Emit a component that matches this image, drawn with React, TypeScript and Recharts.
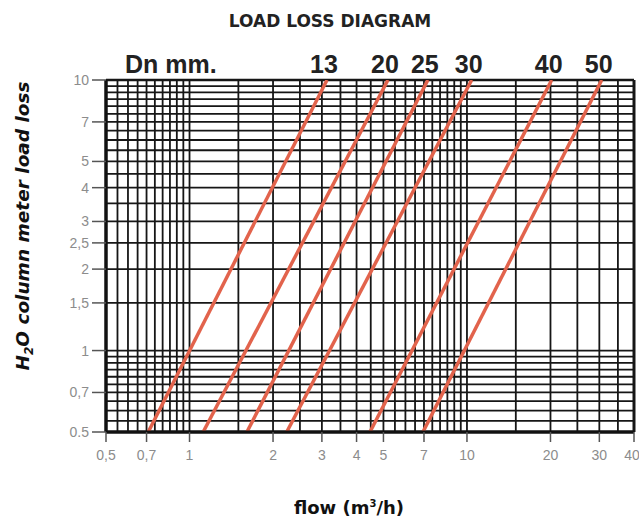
import React from 'react';
import { LineChart, Line, XAxis, YAxis, ReferenceLine, LabelList } from 'recharts';

// tick labels on the axes
const xTicks = [0.5, 0.7, 1, 2, 3, 4, 5, 7, 10, 20, 30, 40];
const yTicks = [0.5, 0.7, 1, 1.5, 2, 2.5, 3, 4, 5, 7, 10];

// grid lines of the nomograph
const xGrid = [
  0.5, 0.55, 0.6, 0.65, 0.7, 0.75, 0.8, 0.85, 0.9, 0.95, 1, 1.5, 2, 2.5, 3, 3.5, 4, 4.5, 5,
  5.5, 6, 6.5, 7, 7.5, 8, 8.5, 9, 9.5, 10, 15, 20, 25, 30, 35, 40,
];
const yGrid = [
  0.5, 0.55, 0.6, 0.65, 0.7, 0.75, 0.8, 0.85, 0.9, 0.95, 1, 1.5, 2, 2.5, 3, 3.5, 4, 4.5, 5,
  5.5, 6, 6.5, 7, 7.5, 8, 8.5, 9, 9.5, 10,
];

// pipe diameters (Dn mm) and their load loss lines: flow m3/h vs H2O column meter
const dn13 = [{ x: 0.71, y: 0.5 }, { x: 3.13, y: 10 }];
const dn20 = [{ x: 1.12, y: 0.5 }, { x: 5.19, y: 10 }];
const dn25 = [{ x: 1.61, y: 0.5 }, { x: 7.23, y: 10 }];
const dn30 = [{ x: 2.24, y: 0.5 }, { x: 10.4, y: 10 }];
const dn40 = [{ x: 4.47, y: 0.5 }, { x: 20.2, y: 10 }];
const dn50 = [{ x: 6.94, y: 0.5 }, { x: 30.6, y: 10 }];

const series = [
  { name: '13', points: dn13 },
  { name: '20', points: dn20 },
  { name: '25', points: dn25 },
  { name: '30', points: dn30 },
  { name: '40', points: dn40 },
  { name: '50', points: dn50 },
];

const GRID = '#161616';
const RED = '#e2634c';
const TICK_FONT = { fontFamily: 'Liberation Sans, Arial, sans-serif', fontSize: 14, fill: '#8c8c8c' };

const fmtX = (v: number) => String(v).replace('.', ',');
const fmtY = (v: number) => (v === 0.5 ? '0.5' : String(v).replace('.', ','));

const topLabel = (name: string) => (p: any) => {
  if (p.index !== 1) return null;
  return (
    <text
      x={p.x - 3}
      y={p.y - 7}
      textAnchor="middle"
      fontFamily="Liberation Sans, Arial, sans-serif"
      fontWeight="bold"
      fontSize={25}
      fill="#222"
    >
      {name}
    </text>
  );
};

export default function App() {
  return (
    <div style={{ position: 'absolute', left: 0, top: 0, width: 639, height: 521, background: '#fff' }}>
      <LineChart width={639} height={521} margin={{ top: 80, right: 5, bottom: 0, left: 0 }}>
        <XAxis
          type="number"
          dataKey="x"
          scale="log"
          domain={[0.5, 40]}
          allowDataOverflow
          ticks={xTicks}
          tickFormatter={fmtX}
          height={89}
          tickSize={10}
          tickMargin={8}
          tick={TICK_FONT}
          tickLine={{ stroke: '#555', strokeWidth: 1.5 }}
          axisLine={{ stroke: '#111', strokeWidth: 3 }}
        />
        <YAxis
          type="number"
          dataKey="y"
          scale="log"
          domain={[0.5, 10]}
          allowDataOverflow
          ticks={yTicks}
          tickFormatter={fmtY}
          width={106}
          tickSize={14}
          tickMargin={3}
          tick={TICK_FONT}
          tickLine={{ stroke: '#555', strokeWidth: 1.5 }}
          axisLine={{ stroke: '#111', strokeWidth: 3 }}
        />
        {xGrid.map((v) => (
          <ReferenceLine
            key={'gx' + v}
            x={v}
            stroke={GRID}
            strokeWidth={v === 40 ? 3 : v === 0.5 ? 3 : 1.8}
          />
        ))}
        {yGrid.map((v) => (
          <ReferenceLine
            key={'gy' + v}
            y={v}
            stroke={GRID}
            strokeWidth={v === 0.5 ? 3 : v === 10 ? 2.4 : 1.8}
          />
        ))}
        {series.map((s) => (
          <Line
            key={s.name}
            data={s.points}
            dataKey="y"
            type="linear"
            stroke={RED}
            strokeWidth={3.5}
            dot={false}
            activeDot={false}
            isAnimationActive={false}
          >
            <LabelList dataKey="y" content={topLabel(s.name)} />
          </Line>
        ))}
      </LineChart>
      <svg
        width={639}
        height={521}
        style={{ position: 'absolute', left: 0, top: 0, pointerEvents: 'none' }}
      >
        <text
          x={330}
          y={27}
          textAnchor="middle"
          fontFamily="DejaVu Sans, sans-serif"
          fontWeight="bold"
          fontSize={17}
          fill="#222"
        >
          LOAD LOSS DIAGRAM
        </text>
        <text
          x={125}
          y={73}
          fontFamily="Liberation Sans, Arial, sans-serif"
          fontWeight="bold"
          fontSize={25}
          fill="#222"
        >
          Dn mm.
        </text>
        <text
          transform="translate(29,226) rotate(-90)"
          textAnchor="middle"
          fontFamily="DejaVu Sans, sans-serif"
          fontWeight="bold"
          fontStyle="italic"
          fontSize={18.5}
          fill="#111"
        >
          H
          <tspan fontSize={12} dy={4}>2</tspan>
          <tspan dy={-4}>O column meter load loss</tspan>
        </text>
        <text
          x={349}
          y={514}
          textAnchor="middle"
          fontFamily="DejaVu Sans, sans-serif"
          fontWeight="bold"
          fontSize={18}
          fill="#111"
        >
          flow (m
          <tspan fontSize={10} dy={-7}>3</tspan>
          <tspan dy={7}>/h)</tspan>
        </text>
      </svg>
    </div>
  );
}
